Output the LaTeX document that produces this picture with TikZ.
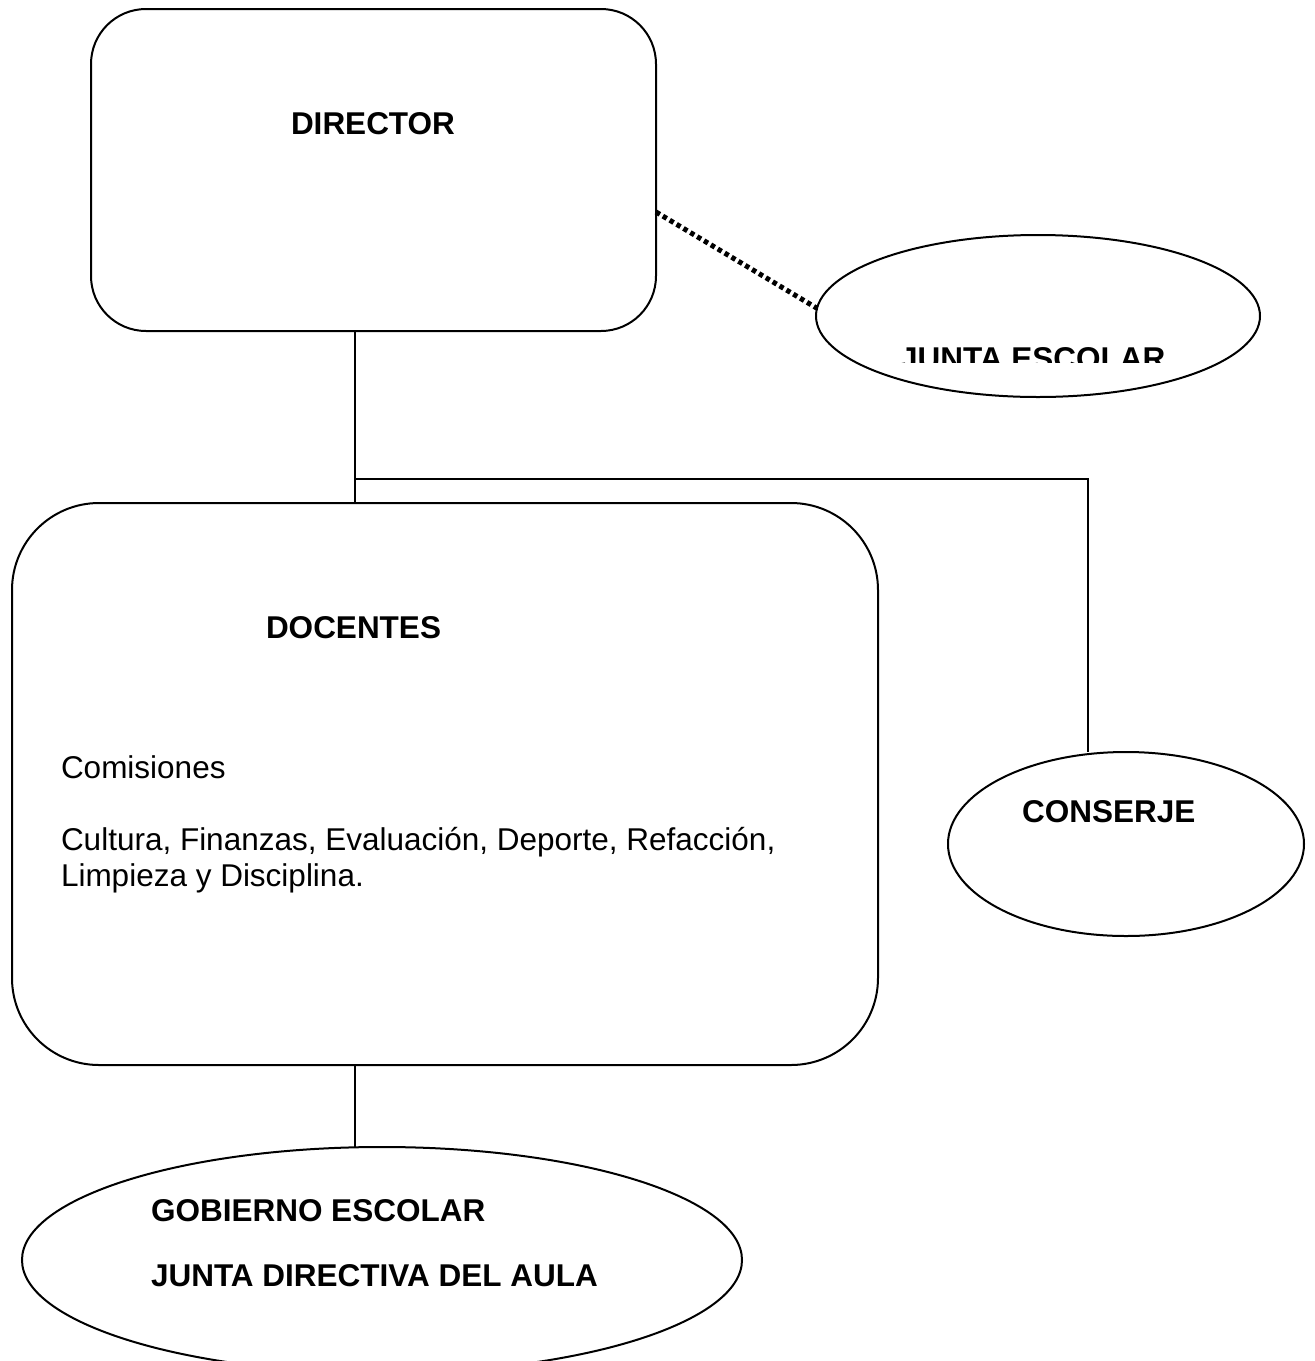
\documentclass[tikz,border=0pt]{standalone}
\usepackage{fontspec}
\setmainfont{Liberation Sans}
\usetikzlibrary{shapes.geometric}
\begin{document}
\begin{tikzpicture}[x=1pt,y=-1pt,
  box/.style={draw,line width=2pt,rectangle,inner sep=0pt,outer sep=0pt},
  oval/.style={draw,line width=2pt,ellipse,inner sep=0pt,outer sep=0pt},
  conn/.style={line width=1.8pt},
  dotconn/.style={line width=5pt,dash pattern=on 4.5pt off 3.5pt},
  lbl/.style={inner sep=0pt,outer sep=0pt,anchor=base west,font=\fontsize{31.5}{36.2}\selectfont},
  blbl/.style={lbl,font=\fontsize{31.5}{36.2}\selectfont\bfseries}]
\useasboundingbox (0,0) rectangle (1315,1361);
\fill[white] (0,0) rectangle (1315,1361);

% shapes
\node[box,rounded corners=55pt,minimum width=565pt,minimum height=322pt] (director) at (373.5,170) {};
\node[box,rounded corners=87pt,minimum width=866pt,minimum height=562pt] (docentes) at (445,784) {};
\node[oval,minimum width=444pt,minimum height=162pt] (junta) at (1038,316) {};
\node[oval,minimum width=356pt,minimum height=184pt] (conserje) at (1126,844) {};
\node[oval,minimum width=720pt,minimum height=226pt] (gobierno) at (382,1260) {};

% texts
\node[blbl] (tdirector) at (291,134) {DIRECTOR};
\node[blbl] (tdocentes) at (266,638) {DOCENTES};
\node[lbl] (tcomisiones) at (61,778) {Comisiones};
\node[lbl] (tcultura) at (61,850) {Cultura, Finanzas, Evaluación, Deporte, Refacción,};
\node[lbl] (tlimpieza) at (61,886) {Limpieza y Disciplina.};
\node[blbl] (tconserje) at (1022,822) {CONSERJE};
\node[blbl] (tgobierno) at (151,1221) {GOBIERNO ESCOLAR};
\node[blbl] (tdirectiva) at (151,1286) {JUNTA DIRECTIVA DEL AULA};
\begin{scope}
  \clip (880,330) rectangle (1200,362);
  \node[blbl] (tjunta) at (900,369.5) {JUNTA ESCOLAR};
\end{scope}

% connectors
\coordinate (junction) at (355,479);
\coordinate (corner) at (1088,479);
\coordinate (dotA) at (656,212);
\draw[conn] (junction |- director.south) -- (junction |- docentes.north);
\draw[conn] (junction) -- (corner) -- (corner |- conserje.north);
\draw[conn] (junction |- docentes.south) -- (junction |- gobierno.north);
\draw[dotconn] (dotA) -- (junta.178);
\end{tikzpicture}
\end{document}
